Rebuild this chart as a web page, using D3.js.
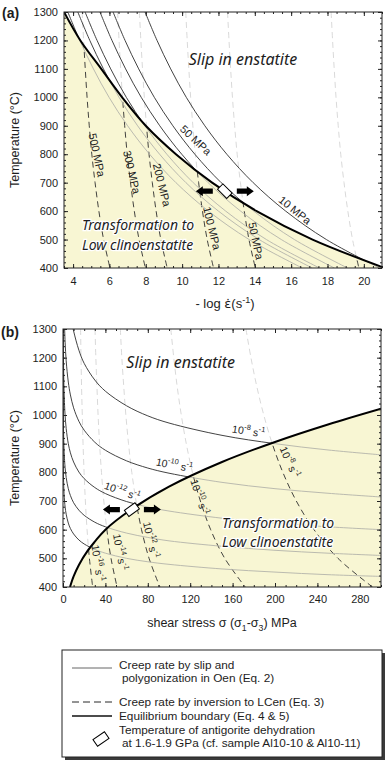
<!DOCTYPE html>
<html>
<head>
<meta charset="utf-8">
<title>Enstatite deformation map</title>
<script src="https://cdn.jsdelivr.net/npm/d3@7"></script>
<style>
  body { margin: 0; background: #fff; }
  text { font-family: "Liberation Sans", Arial, sans-serif; fill: #1d1d1d; }
  .region { font-family: "Noto Sans", sans-serif; font-style: italic; }
</style>
</head>
<body>
<svg id="chart" width="388" height="763"></svg>
<script>
// ---------- values ----------
const tempTicks = [400, 500, 600, 700, 800, 900, 1000, 1100, 1200, 1300];
const rateTicks = [4, 6, 8, 10, 12, 14, 16, 18, 20];
const stressTicks = [0, 40, 80, 120, 160, 200, 240, 280];

// temperatures (°C) at which the curves were read
const tempSteps = [1300, 1200, 1100, 1000, 900, 800, 700, 600, 500, 400];

// (a) -log strain rate, one value per tempSteps entry
const boundaryA = [3.5, 4.4, 5.55, 6.7, 8.0, 9.66, 11.65, 14.1, 17.18, 21.15];
const slipA500 = [3.71, 4.37, 5.12, 5.98, 7.0, 8.21, 9.66, 11.45, 13.69, 16.61];
const slipA300 = [4.26, 4.92, 5.67, 6.53, 7.55, 8.76, 10.21, 12.0, 14.24, 17.16];
const slipA200 = [4.66, 5.32, 6.07, 6.93, 7.95, 9.16, 10.61, 12.4, 14.64, 17.56];
const slipA100 = [5.48, 6.14, 6.89, 7.75, 8.77, 9.98, 11.43, 13.22, 15.46, 18.38];
const slipA50 = [6.2, 6.86, 7.61, 8.47, 9.49, 10.7, 12.15, 13.94, 16.18, 19.1];
const slipA10 = [7.96, 8.62, 9.37, 10.23, 11.25, 12.46, 13.91, 15.7, 17.94, 20.86];
const invA500 = [4.5, 4.58, 4.67, 4.77, 4.89, 5.03, 5.21, 5.42, 5.68, 6.03];
const invA300 = [6.45, 6.53, 6.62, 6.72, 6.84, 6.98, 7.16, 7.37, 7.63, 7.98];
const invA200 = [7.65, 7.73, 7.82, 7.92, 8.04, 8.18, 8.36, 8.57, 8.83, 9.18];
const invA100 = [10.2, 10.28, 10.37, 10.47, 10.59, 10.73, 10.91, 11.12, 11.38, 11.73];
const invA50 = [12.5, 12.58, 12.67, 12.77, 12.89, 13.03, 13.21, 13.42, 13.68, 14.03];
const invA10 = [18.2, 18.28, 18.37, 18.47, 18.59, 18.73, 18.91, 19.12, 19.38, 19.73];
const antigoriteA = [12.35, 670];

// (b) shear stress (MPa)
const boundaryBStress = [6.6, 10, 15, 23, 30, 40, 63, 100, 150, 200, 250, 300];
const boundaryBTemp = [400, 437, 477, 525, 558, 600, 667, 750, 836, 906, 967, 1022];
// slip creep, iso strain-rate curves as [stress, T]
const slipB8 = [[9, 1312], [10, 1293], [15, 1226], [20, 1180], [30, 1122], [40, 1083], [60, 1032], [80, 997], [100, 972], [150, 929], [200, 900], [250, 878], [300, 861]];
const slipB10 = [[1.4, 1316], [2, 1254], [3, 1189], [5, 1115], [7, 1070], [10, 1025], [15, 978], [20, 947], [30, 905], [40, 877], [60, 840], [80, 815], [100, 797], [150, 765], [200, 743], [250, 727], [300, 714]];
const slipB12 = [[0.2, 1334], [0.3, 1263], [0.5, 1181], [1, 1084], [1.5, 1032], [2, 998], [3, 953], [5, 900], [7, 868], [10, 836], [15, 801], [20, 778], [30, 747], [40, 726], [60, 698], [80, 679], [100, 665], [150, 640], [200, 623], [250, 610], [300, 600]];
const slipB14 = [[0.03, 1345], [0.05, 1255], [0.1, 1114], [0.2, 1053], [0.3, 1004], [0.5, 948], [1, 878], [1.5, 841], [2, 816], [3, 782], [5, 743], [7, 719], [10, 694], [15, 668], [20, 650], [30, 626], [40, 610], [60, 588], [80, 573], [100, 561], [150, 542], [200, 528], [250, 518], [300, 510]];
const slipB16 = [[0.01, 1217], [0.02, 1114], [0.05, 999], [0.1, 923], [0.2, 856], [0.3, 820], [0.5, 778], [1, 726], [1.5, 698], [2, 679], [3, 654], [5, 623], [7, 604], [10, 585], [15, 564], [20, 550], [30, 531], [40, 518], [60, 500], [80, 488], [100, 479], [150, 463], [200, 452], [250, 443], [300, 437]];
// inversion creep, stress at each tempSteps entry
const invB8 = [172.6, 177.3, 182.8, 189.4, 197.4, 207.4, 220.1, 236.8, 259.4, 292];
const invB10 = [101.7, 104.5, 107.7, 111.6, 116.3, 122.1, 129.6, 139.3, 152.6, 171.9];
const invB12 = [54.1, 55.5, 57.3, 59.3, 61.8, 64.9, 68.9, 74.1, 81.2, 91.4];
const invB14 = [30.2, 31.0, 32.0, 33.1, 34.5, 36.3, 38.5, 41.4, 45.3, 51.0];
const invB16 = [16.6, 17.0, 17.5, 18.2, 18.9, 19.9, 21.1, 22.7, 24.9, 28.0];
const antigoriteB = [65, 670];

// ---------- drawing ----------
const svg = d3.select('#chart');
const defs = svg.append('defs');
const YELLOW = '#f8f6d3';
const INK = '#2e2e2e';
const SOFT = '#b3b3aa';
const FAINT = '#d9d9d9';
const DASH = '6,4';

const withTemps = xs => xs.map((v, i) => [v, tempSteps[i]]);

function drawPanel(cfg) {
    const x = d3.scaleLinear().domain(cfg.xDomain).range([cfg.left, cfg.right]);
    const y = d3.scaleLinear().domain([400, 1300]).range([cfg.bottom, cfg.top]);
    const line = d3.line()
        .x(d => x(d[0]))
        .y(d => y(d[1]))
        .curve(d3.curveCatmullRom.alpha(0.5));
    const tail = pts => pts.map(p => `L${x(p[0])},${y(p[1])}`).join('') + 'Z';
    const bPath = line(cfg.boundary);

    defs.append('clipPath').attr('id', cfg.id + '-area')
        .append('rect')
        .attr('x', cfg.left).attr('y', cfg.top)
        .attr('width', cfg.right - cfg.left).attr('height', cfg.bottom - cfg.top);
    defs.append('clipPath').attr('id', cfg.id + '-lo')
        .append('path').attr('d', bPath + tail(cfg.loTail));
    defs.append('clipPath').attr('id', cfg.id + '-hi')
        .append('path').attr('d', bPath + tail(cfg.hiTail));

    const plot = svg.append('g').attr('clip-path', `url(#${cfg.id}-area)`);
    plot.append('path')
        .attr('d', bPath + tail(cfg.loTail))
        .attr('fill', YELLOW);

    const lo = plot.append('g').attr('clip-path', `url(#${cfg.id}-lo)`);
    const hi = plot.append('g').attr('clip-path', `url(#${cfg.id}-hi)`);

    // inversion creep (dashed): black in the transformation field, faint elsewhere
    cfg.inv.forEach(c => {
        hi.append('path').attr('d', line(c))
            .attr('fill', 'none').attr('stroke', FAINT)
            .attr('stroke-width', 1).attr('stroke-dasharray', DASH);
        lo.append('path').attr('d', line(c))
            .attr('fill', 'none').attr('stroke', INK)
            .attr('stroke-width', 0.9).attr('stroke-dasharray', DASH);
    });
    // slip creep (solid): black in the slip field, grey in the transformation field
    cfg.slip.forEach(c => {
        lo.append('path').attr('d', line(c))
            .attr('fill', 'none').attr('stroke', SOFT).attr('stroke-width', 0.9);
        hi.append('path').attr('d', line(c))
            .attr('fill', 'none').attr('stroke', INK).attr('stroke-width', 0.9);
    });

    // equilibrium boundary
    plot.append('path')
        .attr('d', bPath)
        .attr('fill', 'none')
        .attr('stroke', '#000')
        .attr('stroke-width', 2);

    // axes, ticks pointing inward on all four sides
    const tidy = g => {
        g.select('.domain').remove();
        g.selectAll('line').attr('stroke', '#222');
        g.attr('font-size', 11);
    };
    const fmt = d3.format('d');
    const xMinor = d3.range(cfg.xDomain[0], cfg.xDomain[1] + 1e-9, cfg.xMinorStep);
    const yMinor = d3.range(400, 1301, 20);

    svg.append('g').attr('transform', `translate(0,${cfg.bottom})`)
        .call(d3.axisBottom(x).tickValues(xMinor).tickSize(-2).tickFormat('')).call(tidy);
    svg.append('g').attr('transform', `translate(0,${cfg.bottom})`)
        .call(d3.axisBottom(x).tickValues(cfg.xTicks).tickSize(-4).tickPadding(cfg.xPad).tickFormat(fmt)).call(tidy);
    svg.append('g').attr('transform', `translate(0,${cfg.top})`)
        .call(d3.axisTop(x).tickValues(xMinor).tickSize(-2).tickFormat('')).call(tidy);
    svg.append('g').attr('transform', `translate(0,${cfg.top})`)
        .call(d3.axisTop(x).tickValues(cfg.xTicks).tickSize(-4).tickFormat('')).call(tidy);

    svg.append('g').attr('transform', `translate(${cfg.left},0)`)
        .call(d3.axisLeft(y).tickValues(yMinor).tickSize(-2).tickFormat('')).call(tidy);
    svg.append('g').attr('transform', `translate(${cfg.left},0)`)
        .call(d3.axisLeft(y).tickValues(tempTicks).tickSize(-4).tickPadding(6).tickFormat(fmt)).call(tidy);
    svg.append('g').attr('transform', `translate(${cfg.right},0)`)
        .call(d3.axisRight(y).tickValues(yMinor).tickSize(-2).tickFormat('')).call(tidy);
    svg.append('g').attr('transform', `translate(${cfg.right},0)`)
        .call(d3.axisRight(y).tickValues(tempTicks).tickSize(-4).tickFormat('')).call(tidy);

    svg.append('rect')
        .attr('x', cfg.left).attr('y', cfg.top)
        .attr('width', cfg.right - cfg.left).attr('height', cfg.bottom - cfg.top)
        .attr('fill', 'none').attr('stroke', '#222').attr('stroke-width', 1);

    return { x, y };
}

// text with superscript / subscript pieces: parts = [[string, ''|'sup'|'sub'|'font'], ...]
function richText(parent, parts, size) {
    const t = parent.append('text').attr('font-size', size);
    let shift = 0;
    parts.forEach(([str, mode]) => {
        const small = mode === 'sup' || mode === 'sub';
        const target = mode === 'sup' ? -0.4 * size : mode === 'sub' ? 0.3 * size : 0;
        const ts = t.append('tspan')
            .attr('dy', target - shift)
            .attr('font-size', small ? size * 0.7 : size)
            .style('white-space', 'pre')
            .text(str);
        if (mode === 'font') ts.style('font-family', '"DejaVu Sans", sans-serif');
        shift = target;
    });
    return t;
}

function antigorite(pos, sc, angle) {
    const cx = sc.x(pos[0]);
    const cy = sc.y(pos[1]);
    const g = svg.append('g').attr('transform', `translate(${cx},${cy})`);
    const arrow = (x0, x1) => {
        const dir = Math.sign(x1 - x0);
        const neck = x1 - dir * 7;
        return `M${x0},-2.6L${neck},-2.6L${neck},-5L${x1},0L${neck},5L${neck},2.6L${x0},2.6Z`;
    };
    g.append('path').attr('d', arrow(-12, -29)).attr('fill', '#000');
    g.append('path').attr('d', arrow(12, 29)).attr('fill', '#000');
    g.append('rect')
        .attr('x', -6.5).attr('y', -3.8).attr('width', 13).attr('height', 7.6)
        .attr('transform', `rotate(${angle})`)
        .attr('fill', '#fff').attr('stroke', '#000').attr('stroke-width', 1);
}

function regionText(sc, slipPos, transPos) {
    svg.append('text').attr('class', 'region')
        .attr('x', sc.x(slipPos[0])).attr('y', sc.y(slipPos[1]))
        .attr('text-anchor', 'middle').attr('font-size', 16)
        .text('Slip in enstatite');
    ['Transformation to', 'Low clinoenstatite'].forEach((s, i) => {
        svg.append('text').attr('class', 'region')
            .attr('x', sc.x(transPos[0])).attr('y', sc.y(transPos[1 + i]))
            .attr('font-size', 14)
            .attr('stroke', '#fff').attr('stroke-width', 2.5).attr('paint-order', 'stroke')
            .text(s);
    });
}

// ---------- panel (a) ----------
const scA = drawPanel({
    id: 'pa',
    left: 64, right: 382, top: 12, bottom: 268,
    xDomain: [3.5, 21], xTicks: rateTicks, xMinorStep: 0.5, xPad: 9,
    boundary: withTemps(boundaryA),
    loTail: [[22, 380], [3, 380], [3, 1300]],
    hiTail: [[22, 400], [22, 1350], [3.5, 1350]],
    slip: [slipA500, slipA300, slipA200, slipA100, slipA50, slipA10].map(withTemps),
    inv: [invA500, invA300, invA200, invA100, invA50, invA10].map(withTemps)
});

const labelsA = [
    ['500 MPa', 5.32, 797, 78], ['300 MPa', 7.24, 737, 77], ['200 MPa', 8.89, 692, 76],
    ['100 MPa', 11.65, 540, 76], ['50 MPa', 14.07, 495, 78],
    ['50 MPa', 10.76, 850, 43], ['10 MPa', 16.21, 604, 39]
];
labelsA.forEach(([txt, v, t, rot]) => {
    svg.append('text')
        .attr('transform', `translate(${scA.x(v)},${scA.y(t)}) rotate(${rot})`)
        .attr('text-anchor', 'middle')
        .attr('dominant-baseline', 'central')
        .attr('font-size', 11)
        .text(txt);
});

regionText(scA, [13.35, 1114], [4.49, 532, 463]);
antigorite(antigoriteA, scA, 45);

svg.append('text').attr('x', 2).attr('y', 18)
    .attr('font-size', 14).attr('font-weight', 'bold').text('(a)');
svg.append('text')
    .attr('transform', 'translate(19,140) rotate(-90)')
    .attr('text-anchor', 'middle').attr('font-size', 12.5)
    .text('Temperature (°C)');
richText(svg, [['- log ', ''], ['ε\u0307', 'font'], ['(s', ''], ['-1', 'sup'], [')', '']], 13)
    .attr('x', 225).attr('y', 308).attr('text-anchor', 'middle');

// ---------- panel (b) ----------
const scB = drawPanel({
    id: 'pb',
    left: 63, right: 381, top: 329, bottom: 587,
    xDomain: [0, 300], xTicks: stressTicks, xMinorStep: 10, xPad: 8,
    boundary: boundaryBStress.map((s, i) => [s, boundaryBTemp[i]]),
    loTail: [[320, 1022], [320, 380], [6.6, 380]],
    hiTail: [[320, 1022], [320, 1350], [-10, 1350], [-10, 380], [6.6, 380]],
    slip: [slipB8, slipB10, slipB12, slipB14, slipB16],
    inv: [invB8, invB10, invB12, invB14, invB16].map(withTemps)
});

const labelsB = [
    ['-8', 175, 944, 9], ['-10', 105, 826, 11], ['-12', 56, 735, 20],
    ['-8', 214, 836, 66], ['-10', 129, 714, 72], ['-12', 83, 564, 77],
    ['-14', 54, 522, 80], ['-16', 33, 484, 82]
];
labelsB.forEach(([exp, s, t, rot]) => {
    richText(svg, [['10', ''], [exp, 'sup'], [' s', ''], ['-1', 'sup']], 10.5)
        .attr('transform', `translate(${scB.x(s)},${scB.y(t)}) rotate(${rot})`)
        .attr('text-anchor', 'middle')
        .attr('dominant-baseline', 'central');
});

regionText(scB, [111, 1164], [150, 607, 540]);
antigorite(antigoriteB, scB, -36);

svg.append('text').attr('x', 1).attr('y', 337)
    .attr('font-size', 14).attr('font-weight', 'bold').text('(b)');
svg.append('text')
    .attr('transform', 'translate(19,458) rotate(-90)')
    .attr('text-anchor', 'middle').attr('font-size', 12.5)
    .text('Temperature (°C)');
richText(svg, [['shear stress σ (σ', ''], ['1', 'sub'], ['-σ', ''], ['3', 'sub'], [') MPa', '']], 12.5)
    .attr('x', 222).attr('y', 627).attr('text-anchor', 'middle');

// ---------- legend ----------
const legend = svg.append('g');
legend.append('rect')
    .attr('x', 65).attr('y', 653).attr('width', 320).attr('height', 107)
    .attr('fill', '#3a3a3a');
legend.append('rect')
    .attr('x', 62).attr('y', 650).attr('width', 320).attr('height', 107)
    .attr('fill', '#fff').attr('stroke', '#222').attr('stroke-width', 1);

const legendItems = [
    { kind: 'slip', y: 668, text: 669, lines: ['Creep rate by slip and', 'polygonization in Oen (Eq. 2)'] },
    { kind: 'inv', y: 702, text: 706, lines: ['Creep rate by inversion to LCen (Eq. 3)'] },
    { kind: 'eq', y: 716, text: 720, lines: ['Equilibrium boundary (Eq. 4 & 5)'] },
    { kind: 'dia', y: 739, text: 734, lines: ['Temperature of antigorite dehydration', 'at 1.6-1.9 GPa (cf. sample Al10-10 & Al10-11)'] }
];
legendItems.forEach(item => {
    if (item.kind === 'dia') {
        legend.append('rect')
            .attr('x', -7).attr('y', -4).attr('width', 14).attr('height', 8)
            .attr('transform', `translate(101,${item.y}) rotate(-35)`)
            .attr('fill', '#fff').attr('stroke', '#000').attr('stroke-width', 1);
    } else {
        legend.append('line')
            .attr('x1', 72).attr('x2', 112).attr('y1', item.y).attr('y2', item.y)
            .attr('stroke', item.kind === 'slip' ? '#555' : '#111')
            .attr('stroke-width', item.kind === 'eq' ? 1.6 : 0.9)
            .attr('stroke-dasharray', item.kind === 'inv' ? '7,4' : null);
    }
    item.lines.forEach((s, i) => {
        legend.append('text')
            .attr('x', i === 0 ? 119 : 122).attr('y', item.text + i * 13)
            .attr('font-size', 11.8)
            .text(s);
    });
});
</script>
</body>
</html>
